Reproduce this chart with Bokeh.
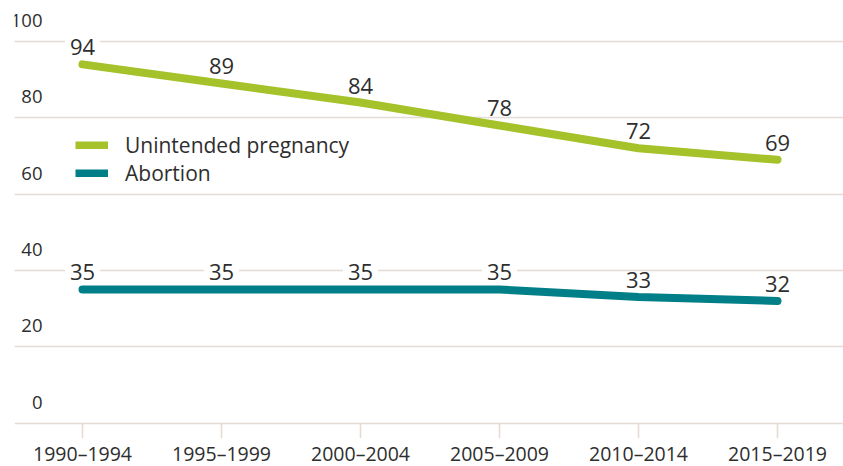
from bokeh.plotting import figure
from bokeh.models import FixedTicker, Legend, LegendItem, ColumnDataSource
from bokeh.core.properties import value
from bokeh.embed import file_html
from bokeh.resources import INLINE

categories = ["1990–1994", "1995–1999", "2000–2004", "2005–2009", "2010–2014", "2015–2019"]
unintended = [94, 89, 84, 78, 72, 69]
abortion = [35, 35, 35, 35, 33, 32]
y_ticks = [0, 20, 40, 60, 80, 100]
series_names = ["Unintended pregnancy", "Abortion"]

GREEN = "#a5c22a"
TEAL = "#007f89"
GRID = "#e4dbd4"
TEXT = "#2e2e2e"
FONT = "Open Sans"

W, H = 843, 466
LEFT = 14
# pixel geometry of the frame
zero_px_from_top = 422.5
px_per_unit = 3.815
y_top = zero_px_from_top / px_per_unit
y_bot = -(H - zero_px_from_top) / px_per_unit
step = 139.0
first_center = 68.0
x_lo = -first_center / step
x_hi = x_lo + (W - LEFT) / step

idx = list(range(len(categories)))

p = figure(width=W, height=H, x_range=(x_lo, x_hi), y_range=(y_bot, y_top),
           output_backend="svg", toolbar_location=None,
           min_border_left=LEFT, min_border_right=0, min_border_top=0, min_border_bottom=0)
p.outline_line_color = None
p.xaxis.visible = False
p.yaxis.visible = False
p.xgrid.visible = False
p.ygrid.ticker = FixedTicker(ticks=y_ticks)
p.ygrid.grid_line_color = GRID
p.ygrid.grid_line_width = 1.6

# y tick labels above grid lines
p.text(x=[x_lo] * len(y_ticks), y=y_ticks, text=[str(t) for t in y_ticks],
       x_offset=28, y_offset=-21, text_align="right", text_baseline="alphabetic",
       text_font=value(FONT), text_font_size="18.5px", text_color=TEXT)

# x ticks and labels
p.ray(x=idx, y=[0] * len(idx), length=15, length_units="screen", angle=-1.5707963,
      line_color=GRID, line_width=1.6)
p.text(x=idx, y=[0] * len(idx), text=categories, y_offset=30,
       text_align="center", text_baseline="alphabetic",
       text_font=value(FONT), text_font_size="19.5px", text_color=TEXT)

src = ColumnDataSource(dict(x=idx, u=unintended, a=abortion,
                            ut=[str(v) for v in unintended], at=[str(v) for v in abortion]))

p.line("x", "u", source=src, line_color=GREEN, line_width=8, line_cap="round", line_join="round")
p.line("x", "a", source=src, line_color=TEAL, line_width=8, line_cap="round", line_join="round")

for col, tcol in (("u", "ut"), ("a", "at")):
    p.text(x="x", y=col, text=tcol, source=src, y_offset=-17,
           text_align="center", text_baseline="alphabetic",
           text_font=value(FONT), text_font_size="22px", text_color=TEXT,
           background_fill_color="white", padding=dict(left=5, right=5, top=0, bottom=0))

# legend swatches (square-ended), drawn from off-screen dummy renderers
off = y_bot - 100
lg = p.line(x=[0, 1], y=[off, off], line_color=GREEN, line_width=8, line_cap="butt")
la = p.line(x=[0, 1], y=[off, off], line_color=TEAL, line_width=8, line_cap="butt")
legend = Legend(items=[LegendItem(label=series_names[0], renderers=[lg]),
                       LegendItem(label=series_names[1], renderers=[la])],
                location=(61, 279), glyph_width=33, glyph_height=8, label_standoff=17,
                label_text_font=FONT, label_text_font_size="21px", label_text_color=TEXT,
                spacing=0, padding=0, margin=0, border_line_alpha=0, background_fill_alpha=0)
p.add_layout(legend)

open("out.html", "w").write(file_html(p, INLINE))
